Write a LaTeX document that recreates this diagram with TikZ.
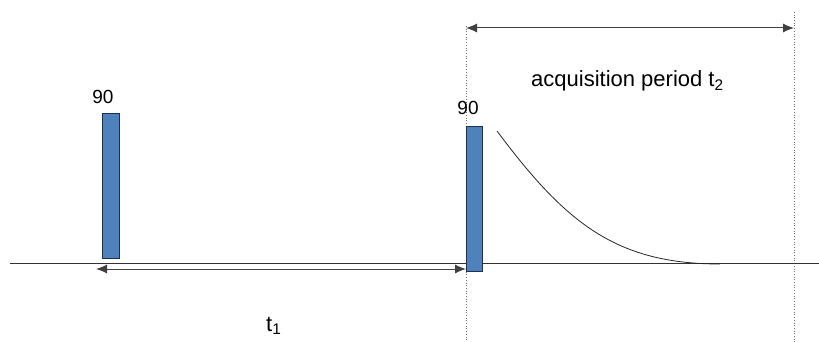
\documentclass[tikz,border=0pt]{standalone}
\usepackage{fontspec}
\setmainfont{Liberation Sans}
\usetikzlibrary{arrows.meta}
\definecolor{pulseblue}{HTML}{4F81BD}
\definecolor{pulseedge}{HTML}{1F2F4F}
\tikzset{
  pulse/.style={draw=pulseedge, line width=0.8pt, fill=pulseblue},
  dimarrow/.style={draw=black!75, line width=1pt, {Latex[length=11pt,width=9pt]}-{Latex[length=11pt,width=9pt]}},
  guide/.style={draw=black!55, line width=0.7pt, dotted},
  lbl/.style={inner sep=0pt, anchor=base, font=\fontsize{19}{19}\selectfont},
  biglbl/.style={inner sep=0pt, anchor=base west, font=\fontsize{22}{22}\selectfont}
}
\begin{document}
\begin{tikzpicture}[x=1pt,y=-1pt]
\useasboundingbox (0,0) rectangle (819,342);
% guide lines
\coordinate (g1t) at (466,26);
\coordinate (g1b) at (466,342);
\coordinate (g2t) at (794,12);
\coordinate (g2b) at (794,342);
\draw[guide] (g1t) -- (g1b);
\draw[guide] (g2t) -- (g2b);
% baseline
\coordinate (bl) at (10,263);
\coordinate (br) at (819,263);
\draw[black!80, line width=0.9pt] (bl) -- (br);
% pulses
\node[pulse, minimum width=17pt, minimum height=145pt, inner sep=0pt, anchor=north west] (p1) at (102,113) {};
\node[pulse, minimum width=16pt, minimum height=145pt, inner sep=0pt, anchor=north west] (p2) at (466,126) {};
\node[lbl] (l1) at (103,104) {90};
\node[lbl] (l2) at (468,115) {90};
% FID
\coordinate (f0) at (497,131);
\coordinate (f1) at (720,264);
\draw[black!85, line width=0.8pt] (f0) .. controls (565,222) and (615,264) .. (f1);
% dimension arrows
\coordinate (a1l) at (96,269);
\coordinate (a1r) at (466,269);
\draw[dimarrow] (a1l) -- (a1r);
\coordinate (a2l) at (466,28);
\coordinate (a2r) at (794,28);
\draw[dimarrow] (a2l) -- (a2r);
% labels
\node[biglbl] (acq) at (531,87) {acquisition period t\textsubscript{2}};
\node[biglbl] (t1) at (266,331) {t\textsubscript{1}};
\end{tikzpicture}
\end{document}
